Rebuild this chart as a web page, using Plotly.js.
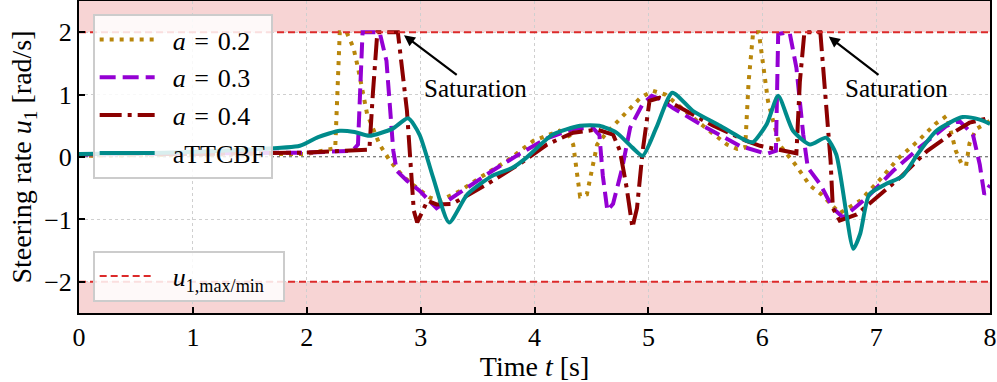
<!DOCTYPE html>
<html>
<head>
<meta charset="utf-8">
<script src="https://cdn.plot.ly/plotly-3.0.1.min.js"></script>
<style>
  html, body { margin: 0; padding: 0; background: #fff; }
  #chart { width: 997px; height: 382px; }
</style>
</head>
<body>
<div id="chart"></div>
<script>
// steering rate u1 [rad/s] over time t [s]
const tA02 = [0, 1.0, 2.0, 2.25, 2.29, 2.35, 2.41, 2.45, 2.53, 2.64, 2.73, 2.84, 2.93, 3.08, 3.17, 3.35, 3.52, 3.76, 3.99, 4.22, 4.30, 4.34, 4.37, 4.40, 4.46, 4.50, 4.55, 4.63, 4.77, 4.93, 5.04, 5.15, 5.48, 5.69, 5.78, 5.85, 5.88, 5.92, 5.97, 6.01, 6.05, 6.15, 6.29, 6.42, 6.52, 6.68, 6.86, 7.05, 7.19, 7.37, 7.52, 7.62, 7.67, 7.70, 7.75, 7.79, 7.82, 7.88, 8.0];
const uA02 = [0.02, 0.03, 0.05, 0.14, 2.0, 2.0, 1.75, 1.43, 0.69, 0.2, -0.06, -0.3, -0.44, -0.65, -0.7, -0.54, -0.33, -0.06, 0.26, 0.42, 0.35, 0.2, -0.23, -0.63, -0.6, -0.22, 0.2, 0.38, 0.65, 0.95, 1.06, 1.0, 0.5, 0.2, 0.13, 0.15, 1.2, 2.0, 2.0, 1.43, 0.9, 0.2, -0.12, -0.46, -0.6, -0.9, -0.7, -0.33, -0.03, 0.26, 0.53, 0.66, 0.31, 0.1, -0.11, -0.14, 0.22, 0.45, 0.58];

const tA03 = [0, 1.0, 2.0, 2.4, 2.45, 2.49, 2.64, 2.70, 2.76, 2.79, 2.88, 2.99, 3.14, 3.32, 3.63, 3.87, 4.11, 4.34, 4.51, 4.57, 4.60, 4.64, 4.69, 4.77, 4.84, 4.95, 5.03, 5.10, 5.22, 5.51, 5.80, 6.04, 6.12, 6.14, 6.24, 6.30, 6.36, 6.40, 6.51, 6.62, 6.71, 6.92, 7.15, 7.38, 7.62, 7.73, 7.85, 7.91, 7.95, 8.0];
const uA03 = [0.04, 0.05, 0.07, 0.1, 0.2, 2.0, 2.0, 1.54, 0.1, -0.22, -0.38, -0.54, -0.82, -0.6, -0.22, 0.05, 0.3, 0.45, 0.47, 0.35, -0.3, -0.86, -0.75, -0.18, 0.47, 0.85, 0.98, 0.93, 0.78, 0.47, 0.18, 0.05, 0.1, 1.97, 2.0, 1.43, 0.36, -0.17, -0.44, -0.82, -0.97, -0.65, -0.22, 0.15, 0.5, 0.58, 0.36, -0.12, -0.6, -0.45];

const tA04 = [0, 1.0, 2.0, 2.5, 2.55, 2.58, 2.62, 2.80, 2.84, 2.88, 2.91, 2.94, 2.97, 3.06, 3.14, 3.28, 3.58, 3.87, 4.11, 4.34, 4.55, 4.69, 4.75, 4.81, 4.86, 4.90, 4.95, 5.01, 5.10, 5.22, 5.57, 5.86, 5.98, 6.09, 6.30, 6.33, 6.37, 6.51, 6.53, 6.57, 6.60, 6.62, 6.68, 6.83, 7.0, 7.21, 7.45, 7.65, 7.82, 8.0];
const uA04 = [0.05, 0.05, 0.07, 0.12, 0.12, 1.0, 2.0, 2.0, 1.43, 0.74, -0.06, -0.86, -1.05, -0.7, -0.76, -0.75, -0.44, -0.11, 0.2, 0.39, 0.44, 0.36, 0.1, -0.5, -1.13, -0.82, 0.1, 0.9, 0.95, 0.85, 0.5, 0.26, 0.18, 0.14, 0.06, 1.2, 2.0, 2.0, 1.54, 0.63, -0.06, -0.82, -1.02, -0.92, -0.65, -0.33, 0.1, 0.36, 0.55, 0.63];

const tTTC = [0, 0.5, 1.0, 1.5, 1.94, 2.1, 2.29, 2.42, 2.55, 2.75, 2.89, 2.99, 3.11, 3.25, 3.41, 3.63, 3.81, 3.93, 4.16, 4.40, 4.57, 4.72, 4.86, 4.95, 5.07, 5.21, 5.39, 5.63, 5.86, 5.92, 6.04, 6.14, 6.27, 6.42, 6.56, 6.65, 6.80, 6.86, 6.94, 7.09, 7.23, 7.37, 7.53, 7.76, 7.91, 8.0];
const uTTC = [0.05, 0.06, 0.08, 0.12, 0.18, 0.32, 0.42, 0.40, 0.34, 0.45, 0.62, 0.36, -0.33, -1.05, -0.6, -0.3, -0.17, -0.01, 0.36, 0.5, 0.5, 0.39, 0.15, 0.02, 0.47, 1.03, 0.74, 0.50, 0.26, 0.24, 0.53, 0.98, 0.42, 0.2, 0.31, 0.04, -1.47, -1.23, -0.6, -0.43, -0.31, 0.06, 0.42, 0.64, 0.6, 0.53];

const uMax = 2;
const tRange = [0, 8];
const uRange = [-2.5, 2.5];
const xTicks = [0, 1, 2, 3, 4, 5, 6, 7, 8];
const yTicks = [-2, -1, 0, 1, 2];
const yTickText = ['\u22122', '\u22121', '0', '1', '2'];

// [arrow tip t, tip u, text t, text u]
const satNotes = [
  [2.84, 1.97, 3.48, 1.09],
  [6.57, 1.95, 7.18, 1.09]
];

const FONT = 'Liberation Serif, Times New Roman, serif';
const FS = 26;
const SP = '\u2004';   // wider math-like spacing around "="
const PAD = '\u2002';  // gap between legend symbol and label

const traces = [
  {
    x: tA02, y: uA02, type: 'scatter', mode: 'lines', legendgroup: 'g1',
    name: PAD + '<i>a</i>' + SP + '=' + SP + '0.2',
    line: { color: '#b8860b', width: 4, dash: '4px,6px' }
  },
  {
    x: tA03, y: uA03, type: 'scatter', mode: 'lines', legendgroup: 'g2',
    name: PAD + '<i>a</i>' + SP + '=' + SP + '0.3',
    line: { color: '#9400d3', width: 4, dash: '16px,7px' }
  },
  {
    x: tA04, y: uA04, type: 'scatter', mode: 'lines', legendgroup: 'g3',
    name: PAD + '<i>a</i>' + SP + '=' + SP + '0.4',
    line: { color: '#8b0000', width: 4, dash: '22px,6px,4px,6px' }
  },
  {
    x: tTTC, y: uTTC, type: 'scatter', mode: 'lines', legendgroup: 'g4',
    name: PAD + 'aTTCBF',
    line: { color: '#008b8b', width: 4, shape: 'spline', smoothing: 0.6 }
  },
  {
    x: [tRange[0], tRange[1], null, tRange[0], tRange[1]],
    y: [uMax, uMax, null, -uMax, -uMax],
    type: 'scatter', mode: 'lines', name: PAD + '<i>u</i><sub>1,max/min</sub>' + PAD,
    legend: 'legend2',
    line: { color: '#dc2a2a', width: 2, dash: '7px,4px' }
  }
];

const shapes = [
  { type: 'rect', xref: 'x', yref: 'y', x0: tRange[0], x1: tRange[1], y0: uMax, y1: uRange[1],
    fillcolor: 'rgba(214,39,40,0.2)', line: { width: 0 }, layer: 'below' },
  { type: 'rect', xref: 'x', yref: 'y', x0: tRange[0], x1: tRange[1], y0: uRange[0], y1: -uMax,
    fillcolor: 'rgba(214,39,40,0.2)', line: { width: 0 }, layer: 'below' },
  { type: 'line', xref: 'x', yref: 'y', x0: tRange[0], x1: tRange[1], y0: 0, y1: 0,
    line: { color: '#000', width: 1.2, dash: 'dot' }, layer: 'below' }
];

const annotations = satNotes.map(n => ({
  x: n[0], y: n[1], ax: n[2], ay: n[3], xref: 'x', yref: 'y', axref: 'x', ayref: 'y',
  text: 'Saturation', showarrow: true, arrowhead: 2, arrowsize: 1, arrowwidth: 2.2,
  arrowcolor: '#000', borderpad: 0, standoff: 2,
  font: { family: FONT, size: 25, color: '#000' }
}));

const axisBase = {
  showline: true, linecolor: '#000', linewidth: 2, mirror: true,
  ticks: 'inside', ticklen: 6, tickwidth: 2, tickcolor: '#000',
  showgrid: true, gridcolor: '#cfcfcf', gridwidth: 1, griddash: 'dot',
  zeroline: false, tickfont: { family: FONT, size: FS, color: '#000' }
};

const legendBase = {
  xanchor: 'left', yanchor: 'top',
  bgcolor: 'rgba(255,255,255,0.85)', bordercolor: '#cccccc', borderwidth: 2,
  font: { family: FONT, size: FS, color: '#000' }, itemwidth: 55, tracegroupgap: 1
};

const layout = {
  width: 997, height: 382,
  margin: { l: 79, r: 7, t: 1, b: 69 },
  paper_bgcolor: '#fff', plot_bgcolor: '#fff',
  font: { family: FONT, color: '#000' },
  xaxis: Object.assign({}, axisBase, {
    range: tRange, tickvals: xTicks,
    title: { text: 'Time <i>t</i> [s]', font: { family: FONT, size: 28 }, standoff: 2 }
  }),
  yaxis: Object.assign({}, axisBase, {
    range: uRange, tickvals: yTicks, ticktext: yTickText,
    title: { text: 'Steering rate <i>u</i><sub>1</sub> [rad/s]', font: { family: FONT, size: 28 }, standoff: 4 }
  }),
  showlegend: true,
  legend: Object.assign({}, legendBase, { x: 0.015, y: 0.958 }),
  legend2: Object.assign({}, legendBase, { x: 0.015, y: 0.20 }),
  shapes: shapes,
  annotations: annotations
};

Plotly.newPlot('chart', traces, layout, { staticPlot: true, displayModeBar: false });
</script>
</body>
</html>
